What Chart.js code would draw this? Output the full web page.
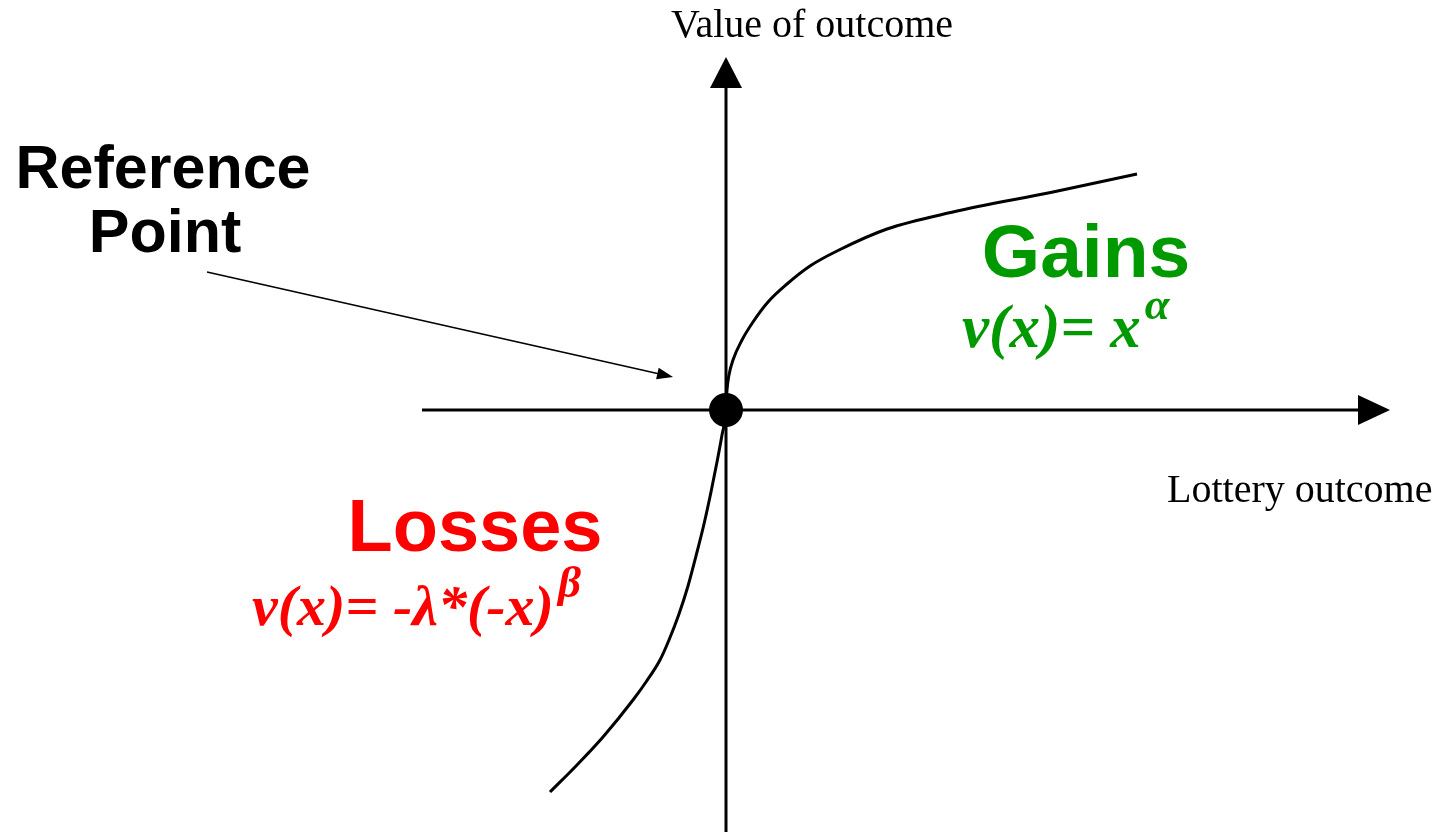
<!DOCTYPE html>
<html>
<head>
<meta charset="utf-8">
<title>Value function</title>
<script src="https://cdn.jsdelivr.net/npm/chart.js@4/dist/chart.umd.min.js"></script>
<style>
    html, body { margin: 0; padding: 0; background: #fff; overflow: hidden; }
    #wrap { width: 1441px; height: 832px; position: relative; }
</style>
</head>
<body>
<div id="wrap"><canvas id="value-chart"></canvas></div>
<script>
// curve (outcome, value)
const lossX = [-1.76, -1.50, -1.23, -0.93, -0.80, -0.66, -0.57, -0.47, -0.38, -0.30, -0.22, -0.15, -0.09, -0.04, 0];
const lossY = [-3.82, -3.56, -3.27, -2.90, -2.72, -2.50, -2.30, -2.04, -1.76, -1.46, -1.14, -0.82, -0.52, -0.25, 0];
const gainX = [0.01, 0.03, 0.07, 0.16, 0.27, 0.42, 0.61, 0.84, 1.11, 1.61, 2.27, 3.27, 4.11];
const gainY = [0.20, 0.35, 0.50, 0.70, 0.88, 1.08, 1.26, 1.44, 1.59, 1.81, 1.98, 2.18, 2.36];

const referencePoint = [0, 0];

// axis extents
const xAxisFrom = -3.04, xAxisTo = 6.64;
const yAxisFrom = -4.22, yAxisTo = 3.53;
const xMin = -7.26, xMax = 7.15;
const yMin = -4.22, yMax = 4.10;

// arrow pointing to the reference point
const pointerFrom = [-5.19, 1.38];
const pointerTo = [-0.53, 0.33];

const SERIF = '"Liberation Serif", "Times New Roman", serif';
const SANS = '"Liberation Sans", Arial, sans-serif';

const labels = [
    { text: 'Value of outcome', x: 0.86, y: 3.73, font: '40px ' + SERIF, color: '#000', align: 'center' },
    { text: 'Reference', x: -5.63, y: 2.22, font: 'bold 61px ' + SANS, color: '#000', align: 'center' },
    { text: 'Point', x: -5.61, y: 1.58, font: 'bold 61px ' + SANS, color: '#000', align: 'center' },
    { text: 'Gains', x: 3.60, y: 1.33, font: 'bold 75px ' + SANS, color: '#009900', align: 'center' },
    { text: 'Lottery outcome', x: 4.41, y: -0.92, font: '40px ' + SERIF, color: '#000', align: 'left' },
    { text: 'Losses', x: -2.51, y: -1.41, font: 'bold 74px ' + SANS, color: '#ff0000', align: 'center' }
];

const formulas = [
    { text: 'v(x)= x', sup: '\u03b1', x: 2.36, y: 0.63, size: 61, color: '#009900' },
    { text: 'v(x)= -\u03bb*(-x)', sup: '\u03b2', x: -4.74, y: -2.15, size: 58, color: '#ff0000' }
];

function toPoints(xs, ys) {
    return xs.map((x, i) => ({ x: x, y: ys[i] }));
}

function arrowHead(ctx, x1, y1, x2, y2, len, half) {
    const ang = Math.atan2(y2 - y1, x2 - x1);
    ctx.beginPath();
    ctx.moveTo(x2, y2);
    ctx.lineTo(x2 - len * Math.cos(ang) + half * Math.sin(ang), y2 - len * Math.sin(ang) - half * Math.cos(ang));
    ctx.lineTo(x2 - len * Math.cos(ang) - half * Math.sin(ang), y2 - len * Math.sin(ang) + half * Math.cos(ang));
    ctx.closePath();
    ctx.fill();
}

const axesPlugin = {
    id: 'axesPlugin',
    beforeDatasetsDraw(chart) {
        const ctx = chart.ctx;
        const xs = chart.scales.x, ys = chart.scales.y;
        const ox = xs.getPixelForValue(0), oy = ys.getPixelForValue(0);
        ctx.save();
        ctx.strokeStyle = '#000';
        ctx.fillStyle = '#000';
        ctx.lineWidth = 3;

        const xEnd = xs.getPixelForValue(xAxisTo);
        ctx.beginPath();
        ctx.moveTo(xs.getPixelForValue(xAxisFrom), oy);
        ctx.lineTo(xEnd - 30, oy);
        ctx.stroke();
        arrowHead(ctx, ox, oy, xEnd, oy, 32, 15);

        const yEnd = ys.getPixelForValue(yAxisTo);
        ctx.beginPath();
        ctx.moveTo(ox, ys.getPixelForValue(yAxisFrom));
        ctx.lineTo(ox, yEnd + 30);
        ctx.stroke();
        arrowHead(ctx, ox, oy, ox, yEnd, 31, 16);

        // pointer arrow
        const px1 = xs.getPixelForValue(pointerFrom[0]), py1 = ys.getPixelForValue(pointerFrom[1]);
        const px2 = xs.getPixelForValue(pointerTo[0]), py2 = ys.getPixelForValue(pointerTo[1]);
        ctx.lineWidth = 1.6;
        ctx.beginPath();
        ctx.moveTo(px1, py1);
        ctx.lineTo(px2 - 10, py2 - 2.3);
        ctx.stroke();
        arrowHead(ctx, px1, py1, px2, py2, 16, 6);
        ctx.restore();
    },
    afterDatasetsDraw(chart) {
        const ctx = chart.ctx;
        const xs = chart.scales.x, ys = chart.scales.y;
        ctx.save();
        ctx.textBaseline = 'alphabetic';
        labels.forEach(l => {
            ctx.font = l.font;
            ctx.fillStyle = l.color;
            ctx.textAlign = l.align;
            ctx.fillText(l.text, xs.getPixelForValue(l.x), ys.getPixelForValue(l.y));
        });
        ctx.textAlign = 'left';
        formulas.forEach(f => {
            const x = xs.getPixelForValue(f.x), y = ys.getPixelForValue(f.y);
            ctx.fillStyle = f.color;
            ctx.font = 'italic bold ' + f.size + 'px ' + SERIF;
            ctx.fillText(f.text, x, y);
            const w = ctx.measureText(f.text).width;
            ctx.font = 'italic bold 45px ' + SERIF;
            ctx.fillText(f.sup, x + w + 4, y - 28);
        });
        ctx.restore();
    }
};

document.addEventListener("DOMContentLoaded", () => {
    const ctx = document.getElementById('value-chart').getContext('2d');
    new Chart(ctx, {
        type: 'scatter',
        data: {
            datasets: [
                {
                    label: 'Value',
                    data: toPoints(lossX, lossY).concat(toPoints(gainX, gainY)),
                    showLine: true,
                    borderColor: '#000',
                    borderWidth: 3,
                    pointRadius: 0,
                    cubicInterpolationMode: 'monotone',
                    fill: false
                },
                {
                    label: 'Reference point',
                    data: [{ x: referencePoint[0], y: referencePoint[1] }],
                    pointRadius: 17,
                    pointBackgroundColor: '#000',
                    pointBorderColor: '#000',
                    pointBorderWidth: 0
                }
            ]
        },
        options: {
            responsive: true,
            maintainAspectRatio: false,
            animation: false,
            layout: { padding: 0, autoPadding: false },
            plugins: {
                legend: { display: false },
                tooltip: { enabled: false },
                title: { display: false }
            },
            scales: {
                x: { type: 'linear', min: xMin, max: xMax, display: false },
                y: { type: 'linear', min: yMin, max: yMax, display: false }
            }
        },
        plugins: [axesPlugin]
    });
});
</script>
</body>
</html>
